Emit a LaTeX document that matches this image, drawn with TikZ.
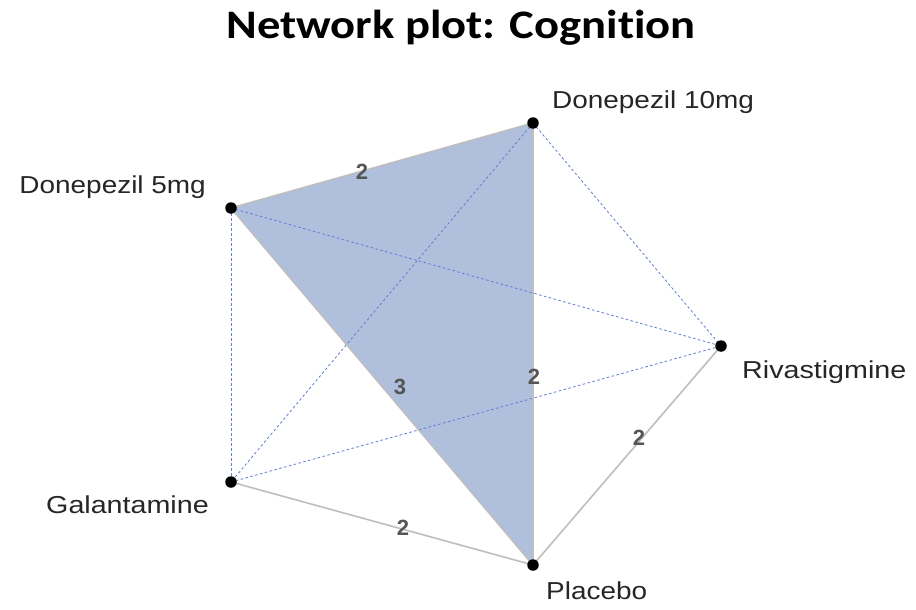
\documentclass[tikz,border=0pt]{standalone}
\usepackage{fontspec}
\setmainfont{Liberation Sans}
\newfontfamily\titlefont[Ligatures=NoCommon]{Carlito}
\definecolor{trifill}{RGB}{176,191,220}
\definecolor{dashblue}{RGB}{95,125,215}
\definecolor{edgegray}{RGB}{190,190,190}
\definecolor{numgray}{RGB}{85,85,85}
\begin{document}
\begin{tikzpicture}[x=1pt,y=-1pt,
  trt/.style={circle,fill=black,inner sep=0pt,minimum size=11.5pt},
  solidedge/.style={draw=edgegray,line width=1.6pt},
  indirect/.style={draw=dashblue,line width=0.8pt,dash pattern=on 2.6pt off 2.4pt},
  trtlabel/.style={inner sep=0pt,font=\fontsize{24.5}{28}\selectfont,text=black!85},
  numlabel/.style={inner sep=0pt,font=\fontsize{22}{24}\selectfont\bfseries,text=numgray}]
\useasboundingbox (0,0) rectangle (916,610);
\fill[white] (0,0) rectangle (916,610);

% treatment positions
\coordinate (d10) at (533,123);
\coordinate (d5) at (231,208);
\coordinate (riv) at (721,346);
\coordinate (gal) at (231,482);
\coordinate (plac) at (533,565);

% multi-arm trial
\fill[trifill] (d5) -- (d10) -- (plac) -- cycle;

% indirect comparisons
\draw[indirect] (d10) -- (riv);
\draw[indirect] (d10) -- (gal);
\draw[indirect] (d5) -- (riv);
\draw[indirect] (d5) -- (gal);
\draw[indirect] (gal) -- (riv);

% direct comparisons
\draw[solidedge] (d5) -- (d10);
\draw[solidedge] (d10) -- (plac);
\draw[solidedge] (d5) -- (plac);
\draw[solidedge] (gal) -- (plac);
\draw[solidedge] (riv) -- (plac);

% number of studies
\node[numlabel] (n1) at (362,172) {2};
\node[numlabel] (n2) at (534,377) {2};
\node[numlabel] (n3) at (400,387) {3};
\node[numlabel] (n4) at (639,438) {2};
\node[numlabel] (n5) at (403,528) {2};

% treatments
\node[trt] (pd10) at (d10) {};
\node[trt] (pd5) at (d5) {};
\node[trt] (priv) at (riv) {};
\node[trt] (pgal) at (gal) {};
\node[trt] (pplac) at (plac) {};

\node[trtlabel,anchor=base west] (l10) at (552,108) {\scalebox{1.14}[1]{Donepezil 10mg}};
\node[trtlabel,anchor=base east] (l5) at (206,193) {\scalebox{1.14}[1]{Donepezil 5mg}};
\node[trtlabel,anchor=base west] (lriv) at (742,378) {\scalebox{1.17}[1]{Rivastigmine}};
\node[trtlabel,anchor=base west] (lgal) at (46,513) {\scalebox{1.17}[1]{Galantamine}};
\node[trtlabel,anchor=base west] (lplac) at (546,599) {\scalebox{1.14}[1]{Placebo}};

% title
\node[inner sep=0pt,anchor=base,font=\titlefont\bfseries\fontsize{40.5}{44}\selectfont] (title) at (461,39) {\scalebox{1.15}[1]{Network plot: Cognition}};
\end{tikzpicture}
\end{document}
